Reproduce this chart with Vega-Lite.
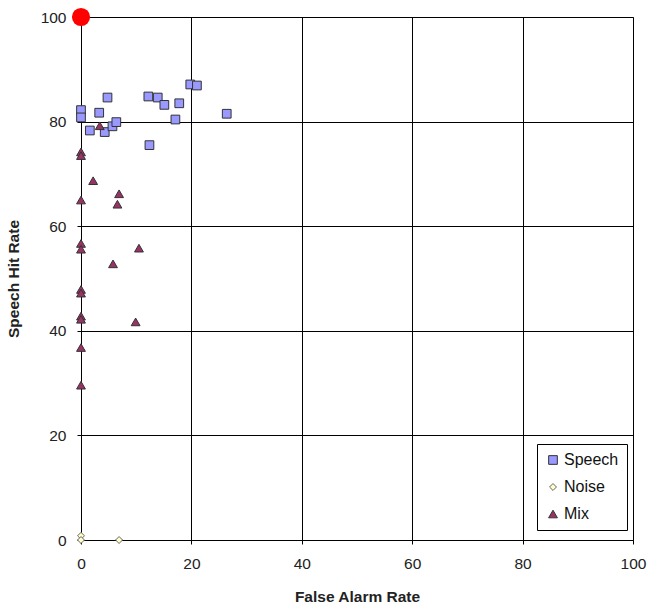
{
  "$schema": "https://vega.github.io/schema/vega-lite/v6.json",
  "width": 552,
  "height": 523,
  "autosize": "none",
  "padding": {"left": 81, "top": 17, "right": 15, "bottom": 70},
  "background": "white",
  "config": {
    "font": "Liberation Sans",
    "view": {"stroke": "#808080", "strokeWidth": 1}
  },
  "datasets": {
    "pts": [
      {"type": "Speech", "far": 0, "hit": 82.2},
      {"type": "Speech", "far": 0, "hit": 80.8},
      {"type": "Speech", "far": 4.8, "hit": 84.6},
      {"type": "Speech", "far": 3.3, "hit": 81.7},
      {"type": "Speech", "far": 1.6, "hit": 78.3},
      {"type": "Speech", "far": 4.3, "hit": 78.0},
      {"type": "Speech", "far": 5.7, "hit": 79.1},
      {"type": "Speech", "far": 6.4, "hit": 79.9},
      {"type": "Speech", "far": 12.2, "hit": 84.8},
      {"type": "Speech", "far": 13.9, "hit": 84.6},
      {"type": "Speech", "far": 15.1, "hit": 83.2},
      {"type": "Speech", "far": 17.8, "hit": 83.5},
      {"type": "Speech", "far": 17.1, "hit": 80.4},
      {"type": "Speech", "far": 12.4, "hit": 75.5},
      {"type": "Speech", "far": 19.8, "hit": 87.1},
      {"type": "Speech", "far": 21.0, "hit": 86.9},
      {"type": "Speech", "far": 26.4, "hit": 81.5},
      {"type": "Noise", "far": 0, "hit": 0.8},
      {"type": "Noise", "far": 0, "hit": 0},
      {"type": "Noise", "far": 6.9, "hit": 0},
      {"type": "Mix", "far": 3.4, "hit": 79.2},
      {"type": "Mix", "far": 0, "hit": 74.2},
      {"type": "Mix", "far": 0, "hit": 73.5},
      {"type": "Mix", "far": 2.2, "hit": 68.7},
      {"type": "Mix", "far": 0, "hit": 65.0},
      {"type": "Mix", "far": 6.9, "hit": 66.2},
      {"type": "Mix", "far": 6.6, "hit": 64.2},
      {"type": "Mix", "far": 0, "hit": 56.7},
      {"type": "Mix", "far": 0, "hit": 55.6},
      {"type": "Mix", "far": 10.5, "hit": 55.8},
      {"type": "Mix", "far": 5.8, "hit": 52.8},
      {"type": "Mix", "far": 0, "hit": 47.9},
      {"type": "Mix", "far": 0, "hit": 47.2},
      {"type": "Mix", "far": 0, "hit": 42.8},
      {"type": "Mix", "far": 0, "hit": 42.2},
      {"type": "Mix", "far": 9.9, "hit": 41.7},
      {"type": "Mix", "far": 0, "hit": 36.8},
      {"type": "Mix", "far": 0, "hit": 29.6}
    ],
    "ideal": [{"far": 0, "hit": 100}]
  },
  "layer": [
    {
      "data": {"name": "pts"},
      "mark": {"type": "point", "filled": true, "strokeWidth": 1, "opacity": 1},
      "encoding": {
        "x": {
          "field": "far", "type": "quantitative",
          "scale": {"domain": [0, 100], "nice": false},
          "axis": {
            "title": "False Alarm  Rate", "titleFontSize": 15.5, "titleFontWeight": "bold",
            "titleColor": "#222", "titlePadding": 18,
            "values": [0, 20, 40, 60, 80, 100], "labelFlush": false,
            "labelFontSize": 15.5, "labelColor": "#222", "labelPadding": 12,
            "grid": true, "gridColor": "#000", "gridOpacity": 1, "gridWidth": 1,
            "domainColor": "#000", "tickColor": "#000", "tickSize": 4
          }
        },
        "y": {
          "field": "hit", "type": "quantitative",
          "scale": {"domain": [0, 100], "nice": false},
          "axis": {
            "title": "Speech Hit Rate", "titleFontSize": 15.5, "titleFontWeight": "bold",
            "titleColor": "#222", "titlePadding": 19,
            "values": [0, 20, 40, 60, 80, 100], "labelFlush": false,
            "labelFontSize": 15.5, "labelColor": "#222", "labelPadding": 11,
            "grid": true, "gridColor": "#000", "gridOpacity": 1, "gridWidth": 1,
            "domainColor": "#000", "tickColor": "#000", "tickSize": 4
          }
        },
        "shape": {
          "field": "type", "type": "nominal",
          "scale": {"domain": ["Speech", "Noise", "Mix"], "range": ["square", "diamond", "triangle-up"]},
          "legend": {
            "title": null, "orient": "none", "legendX": 456, "legendY": 427,
            "labelFontSize": 16, "labelColor": "#111",
            "strokeColor": "#000", "fillColor": "white", "padding": 8,
            "rowPadding": 11, "labelLimit": 200, "symbolStrokeWidth": 1,
            "labelOffset": 3
          }
        },
        "fill": {
          "field": "type", "type": "nominal",
          "scale": {"domain": ["Speech", "Noise", "Mix"], "range": ["#9999FF", "#FFFFCC", "#993366"]}
        },
        "stroke": {
          "field": "type", "type": "nominal",
          "scale": {"domain": ["Speech", "Noise", "Mix"], "range": ["#333333", "#666666", "#333333"]}
        },
        "size": {
          "field": "type", "type": "nominal",
          "scale": {"type": "ordinal", "domain": ["Speech", "Noise", "Mix"], "range": [76, 48, 78]}
        }
      }
    },
    {
      "data": {"name": "ideal"},
      "mark": {"type": "circle", "color": "#FF0000", "size": 330, "opacity": 1},
      "encoding": {
        "x": {"field": "far", "type": "quantitative"},
        "y": {"field": "hit", "type": "quantitative"}
      }
    }
  ]
}
